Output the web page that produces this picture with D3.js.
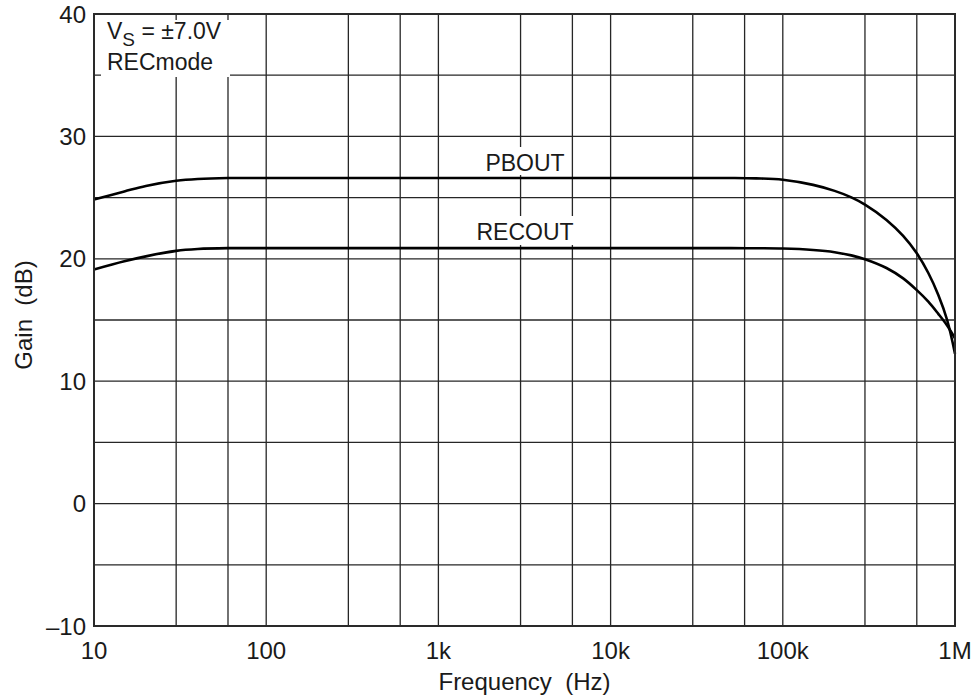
<!DOCTYPE html>
<html>
<head>
<meta charset="utf-8">
<script src="https://cdn.jsdelivr.net/npm/d3@7"></script>
<style>
  html, body { margin: 0; padding: 0; background: #fff; }
  svg text { font-family: "Liberation Sans", Arial, Helvetica, sans-serif; fill: #1a1a1a; }
</style>
</head>
<body>
<svg id="chart" width="980" height="700"></svg>
<script>
// ---- data ----
const freqs  = [10, 15, 20, 30, 40, 60, 100, 1e3, 1e4, 5e4, 7e4, 1e5, 1.5e5, 2e5, 2.5e5, 3e5, 4e5, 5e5, 6e5, 7e5, 8e5, 9e5, 1e6];
const pbout  = [24.85, 25.5, 25.95, 26.37, 26.52, 26.6, 26.6, 26.6, 26.6, 26.6, 26.57, 26.46, 26.04, 25.55, 25.02, 24.43, 23.18, 21.87, 20.45, 18.84, 17.04, 15.0, 12.25];
const recout = [19.13, 19.8, 20.2, 20.65, 20.8, 20.87, 20.87, 20.87, 20.87, 20.87, 20.86, 20.84, 20.72, 20.54, 20.28, 19.97, 19.25, 18.4, 17.44, 16.5, 15.5, 14.55, 13.5];

const xTicks = [10, 100, 1e3, 1e4, 1e5, 1e6];
const xTickLabels = ["10", "100", "1k", "10k", "100k", "1M"];
const yTicks = [40, 30, 20, 10, 0, -10];
const yTickLabels = ["40", "30", "20", "10", "0", "\u201310"];
const xGrid = [10, 30, 60, 100, 300, 600, 1e3, 3e3, 6e3, 1e4, 3e4, 6e4, 1e5, 3e5, 6e5, 1e6];
const yGrid = [-10, -5, 0, 5, 10, 15, 20, 25, 30, 35, 40];

// ---- layout ----
const L = 94, R = 955, T = 14, B = 626;
const svg = d3.select("#chart");
const x = d3.scaleLog().domain([10, 1e6]).range([L, R]);
const y = d3.scaleLinear().domain([-10, 40]).range([B, T]);

// grid
svg.append("g").selectAll("line").data(xGrid).join("line")
  .attr("x1", d => x(d)).attr("x2", d => x(d))
  .attr("y1", T).attr("y2", B)
  .attr("stroke", "#262626").attr("stroke-width", 1.3);
svg.append("g").selectAll("line").data(yGrid).join("line")
  .attr("x1", L).attr("x2", R)
  .attr("y1", d => y(d)).attr("y2", d => y(d))
  .attr("stroke", "#262626").attr("stroke-width", 1.3);

// white boxes behind labels
svg.append("rect").attr("x", 101).attr("y", 20).attr("width", 129).attr("height", 57).attr("fill", "#fff");
svg.append("rect").attr("x", 482).attr("y", 147).attr("width", 87).attr("height", 28).attr("fill", "#fff");
svg.append("rect").attr("x", 472).attr("y", 216).attr("width", 106).attr("height", 29).attr("fill", "#fff");

// curves
const line = d3.line().x(d => x(d[0])).y(d => y(d[1])).curve(d3.curveCatmullRom.alpha(0.5));
[pbout, recout].forEach(s => {
  svg.append("path").datum(freqs.map((f, i) => [f, s[i]]))
    .attr("d", line).attr("fill", "none")
    .attr("stroke", "#000").attr("stroke-width", 2.6);
});

// frame
svg.append("rect").attr("x", L).attr("y", T).attr("width", R - L).attr("height", B - T)
  .attr("fill", "none").attr("stroke", "#2a2a2a").attr("stroke-width", 2);

// tick labels
svg.append("g").selectAll("text").data(xTicks).join("text")
  .attr("x", d => x(d)).attr("y", 659)
  .attr("text-anchor", "middle").attr("font-size", 24)
  .text((d, i) => xTickLabels[i]);
svg.append("g").selectAll("text").data(yTicks).join("text")
  .attr("x", 86).attr("y", d => y(d)).attr("dy", "0.36em")
  .attr("text-anchor", "end").attr("font-size", 24)
  .text((d, i) => yTickLabels[i]);

// axis titles
svg.append("text").attr("x", (L + R) / 2).attr("y", 690)
  .attr("text-anchor", "middle").attr("font-size", 24)
  .style("white-space", "pre")
  .text("Frequency  (Hz)");
svg.append("text").attr("transform", "translate(32,315) rotate(-90)")
  .attr("text-anchor", "middle").attr("font-size", 24)
  .style("white-space", "pre")
  .text("Gain  (dB)");

// curve labels
svg.append("text").attr("x", 525).attr("y", 171).attr("text-anchor", "middle").attr("font-size", 23).text("PBOUT");
svg.append("text").attr("x", 525).attr("y", 240).attr("text-anchor", "middle").attr("font-size", 23).text("RECOUT");

// annotation
const ann = svg.append("text").attr("x", 107).attr("y", 39).attr("font-size", 23);
ann.append("tspan").text("V");
ann.append("tspan").attr("font-size", 19).attr("dy", 7).text("S");
ann.append("tspan").attr("dy", -7).style("white-space", "pre").text(" = \u00b17.0V");
svg.append("text").attr("x", 107).attr("y", 70).attr("font-size", 23).text("RECmode");
</script>
</body>
</html>
